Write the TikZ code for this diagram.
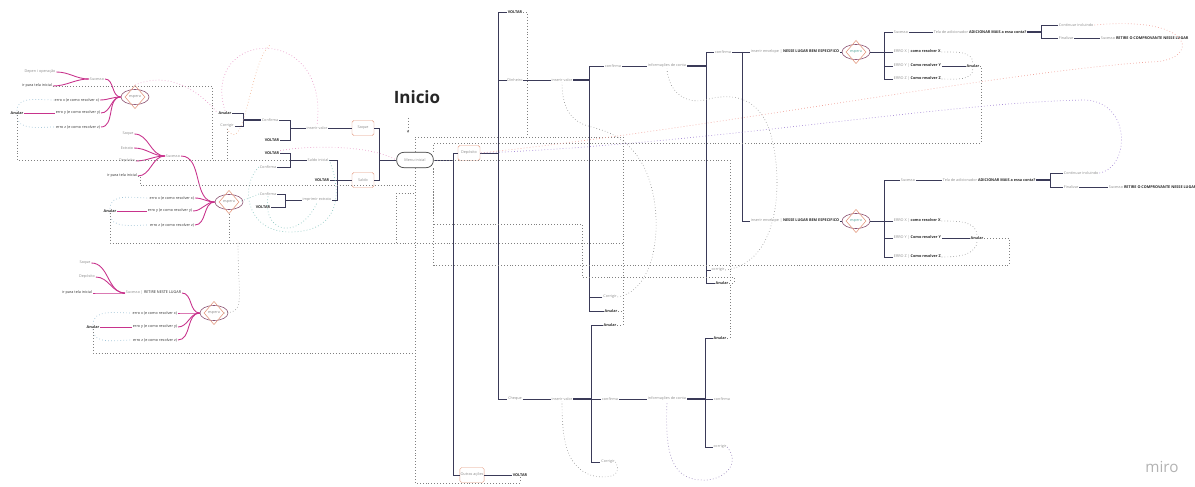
\documentclass[tikz,border=0pt]{standalone}
\usepackage{fontspec}
\setmainfont{Open Sans}
\usetikzlibrary{arrows.meta,positioning,calc,shapes.geometric}

\definecolor{navy}{HTML}{3A3A58}
\definecolor{magc}{HTML}{C8338C}
\definecolor{boxc}{HTML}{E39A80}
\definecolor{ellc}{HTML}{8A4F6F}
\definecolor{salmc}{HTML}{F0A39B}
\definecolor{purpc}{HTML}{A68AD6}
\definecolor{tealc}{HTML}{86C4BE}
\definecolor{lbluec}{HTML}{9FC3D6}
\definecolor{pinkc}{HTML}{E89AC8}
\definecolor{peachc}{HTML}{F2B99A}
\definecolor{esptxt}{HTML}{5AA79E}

\begin{document}
\begin{tikzpicture}[x=0.03cm, y=-0.03cm,
    >=Latex,
    txt/.style={font=\fontsize{3.2}{4}\selectfont, text=black!45, inner sep=0.6pt},
    txtd/.style={txt, text=black!80},
    txtb/.style={txt, text=black!85, font=\fontsize{3.2}{4}\selectfont\bfseries},
    branch/.style={draw=navy, line width=0.6pt},
    trunk/.style={draw=navy, line width=1.4pt},
    mag/.style={draw=magc, line width=0.75pt},
    retline/.style={draw=black!50, dotted, line width=0.5pt},
    tint/.style={dotted, line width=0.6pt, draw=#1},
    optbox/.style={txt, draw=boxc, rounded corners=1.5pt, minimum width=0.66cm, minimum height=0.45cm, fill=white},
    esp/.style={txt, ellipse, draw=ellc, line width=0.5pt, minimum width=0.84cm, minimum height=0.45cm, inner sep=0pt},
    dia/.style={diamond, draw=boxc, line width=0.5pt, minimum width=0.6cm, minimum height=0.7cm, inner sep=0pt}
  ]
  \useasboundingbox (0,0) rectangle (1195,487);

  % title
  \node[font=\fontsize{14.5}{16}\selectfont\bfseries, text=black!85] (title) at (417,97) {Inicio};
  \coordinate (arrA) at (408,118);
  \coordinate (arrB) at (408,133);
  \draw[retline, -{Latex[length=2pt,width=2pt]}] (arrA) -- (arrB);
  \node[font=\fontsize{13}{14}\selectfont, text=black!30] (logo) at (1162,467) {miro};

  % left group, first espera
  \node[txt] (aDep) at (40,72) {Depen i operação};
  \node[txt] (aSuc) at (97,79) {Sucesso};
  \node[txtd] (aIr) at (37,86) {ir para tela inicial};
  \node[esp] (aEsp) at (135,97) {espera};
  \node[dia] (aDia) at (aEsp) {};
  \node[txtd, anchor=east] (aEx) at (100,100) {erro x (e como resolver x)};
  \node[txtb] (aAn) at (17,113) {Anular};
  \node[txtd, anchor=east] (aEy) at (101,113) {erro y (e como resolver y)};
  \node[txtd, anchor=east] (aEz) at (101,127) {erro z (e como resolver z)};

  % left group, second espera
  \node[txt] (bSaq) at (128,134) {Saque};
  \node[txt] (bExt) at (127,148) {Extrato};
  \node[txt] (bDep) at (127,161) {Depósito};
  \node[txtd] (bIr) at (122,176) {ir para tela inicial};
  \node[txt] (bSuc) at (173,156) {Sucesso};
  \node[esp] (bEsp) at (229,202) {espera};
  \node[dia] (bDia) at (bEsp) {};
  \node[txtd, anchor=east] (bEx) at (195,198) {erro x (e como resolver x)};
  \node[txtb] (bAn) at (110,211) {Anular};
  \node[txtd, anchor=east] (bEy) at (193,211) {erro y (e como resolver y)};
  \node[txtd, anchor=east] (bEz) at (195,225) {erro z (e como resolver z)};

  % left group, third espera
  \node[txt] (cSaq) at (85,263) {Saque};
  \node[txt] (cDep) at (87,277) {Depósito};
  \node[txtd] (cIr) at (77,293) {ir para tela inicial};
  \node[txt, anchor=west] (cSuc) at (125,293) {Sucesso | {\color{black!85}RETIRE NESTE LUGAR}};
  \node[esp] (cEsp) at (214,313) {espera};
  \node[dia] (cDia) at (cEsp) {};
  \node[txtd, anchor=east] (cEx) at (178,313) {erro x (e como resolver x)};
  \node[txtb] (cAn) at (93,327) {Anular};
  \node[txtd, anchor=east] (cEy) at (178,327) {erro y (e como resolver y)};
  \node[txtd, anchor=east] (cEz) at (178,340) {erro z (e como resolver z)};

  % saque and saldo
  \node[txt, draw=black!75, line width=0.6pt, rounded corners=6pt, minimum width=1.1cm, minimum height=0.46cm, fill=white] (menu) at (415,160) {Menu inicial};
  \node[txtb] (anA) at (225,113) {Anular};
  \node[txt] (corA) at (227,126) {Corrigir};
  \node[txt] (confA) at (270,120) {Confirma};
  \node[txtb] (voltA) at (272,140) {VOLTAR};
  \node[txt] (insA) at (317,128) {inserir valor};
  \node[optbox] (saqBox) at (363,128) {Saque};
  \node[txtb] (voltB) at (272,153) {VOLTAR};
  \node[txt] (confB) at (268,167) {Confirma};
  \node[txt] (salIni) at (318,160) {Saldo inicial};
  \node[txtb] (voltC) at (322,180) {VOLTAR};
  \node[optbox] (salBox) at (363,180) {Saldo};
  \node[txt] (confC) at (268,194) {Confirma};
  \node[txtb] (voltD) at (263,207) {VOLTAR};
  \node[txt] (impr) at (317,200) {imprimir extrato};

  % deposito
  \node[optbox] (depBox) at (469,153) {Depósito};
  \node[optbox] (outBox) at (472,475) {Outras ações};
  \node[txtb] (voltE) at (515,12) {VOLTAR};
  \node[txt] (din) at (515,80) {Dinheiro};
  \node[txt] (cheq) at (515,399) {Cheque};
  \node[txtb] (voltF) at (520,475) {VOLTAR};
  \node[txt] (insB) at (562,80) {inserir valor};
  \node[txt] (confD) at (613,66) {confirma};
  \node[txt] (corD) at (610,297) {Corrigir};
  \node[txtb] (anD) at (611,311) {Anular};
  \node[txt] (infA) at (667,66) {informações de conta};
  \node[txt] (confE) at (723,52) {confirma};
  \node[txt] (corE) at (718,270) {corrigir};
  \node[txtb] (anE) at (722,283) {Anular};
  \node[txt, anchor=west] (envA) at (750,52) {inserir envelope | {\color{black!85}\bfseries NESSE LUGAR BEM ESPECIFICO}};
  \node[txt, anchor=west] (envB) at (750,221) {inserir envelope | {\color{black!85}\bfseries NESSE LUGAR BEM ESPECIFICO}};

  \node[esp, text=esptxt] (espB) at (856,52) {espera};
  \node[dia] (diaB) at (espB) {};
  \node[txt, anchor=west] (sucB) at (893,32) {Sucesso};
  \node[txt, anchor=west] (exB) at (893,52) {ERRO X | {\color{black!85}\bfseries como resolver X}};
  \node[txt, anchor=west] (eyB) at (893,66) {ERRO Y | {\color{black!85}\bfseries Como resolver Y}};
  \node[txt, anchor=west] (ezB) at (893,79) {ERRO Z | {\color{black!85}\bfseries Como resolver Z}};
  \node[txtb] (anF) at (973,66) {Anular};
  \node[txt, anchor=west] (telaB) at (933,32) {Tela de adicionador {\color{black!85}\bfseries ADICIONAR MAIS a essa conta?}};
  \node[txt, anchor=west] (contB) at (1058,25) {Continuar incluindo};
  \node[txt, anchor=west] (finB) at (1058,38) {Finalizar};
  \node[txt, anchor=west] (retB) at (1100,38) {Sucesso {\color{black!85}\bfseries RETIRE O COMPROVANTE NESSE LUGAR}};

  \node[esp, text=esptxt] (espC) at (856,221) {espera};
  \node[dia] (diaC) at (espC) {};
  \node[txt, anchor=west] (sucC) at (900,180) {Sucesso};
  \node[txt, anchor=west] (exC) at (893,221) {ERRO X | {\color{black!85}\bfseries como resolver X}};
  \node[txt, anchor=west] (eyC) at (893,238) {ERRO Y | {\color{black!85}\bfseries Como resolver Y}};
  \node[txt, anchor=west] (ezC) at (893,257) {ERRO Z | {\color{black!85}\bfseries Como resolver Z}};
  \node[txtb] (anG) at (977,238) {Anular};
  \node[txt, anchor=west] (telaC) at (942,180) {Tela de adicionador {\color{black!85}\bfseries ADICIONAR MAIS a essa conta?}};
  \node[txt, anchor=west] (contC) at (1063,173) {Continuar incluindo};
  \node[txt, anchor=west] (finC) at (1063,187) {Finalizar};
  \node[txt, anchor=west] (retC) at (1108,187) {Sucesso {\color{black!85}\bfseries RETIRE O COMPROVANTE NESSE LUGAR}};

  % cheque
  \node[txt] (insC) at (562,399) {inserir valor};
  \node[txtb] (anH) at (610,325) {Anular};
  \node[txt] (confH) at (610,399) {confirma};
  \node[txt] (corH) at (608,462) {Corrigir};
  \node[txt] (infB) at (667,399) {informações de conta};
  \node[txtb] (anI) at (720,338) {Anular};
  \node[txt] (confI) at (722,399) {confirma};
  \node[txt] (corI) at (720,447) {corrigir};

  % magenta trees
  \foreach \k in {aEx,aEy,aEz,aSuc} \draw[mag] (aEsp.west) to[out=180,in=0] (\k.east);
  \foreach \k in {aDep,aIr} \draw[mag] (aSuc.west) to[out=180,in=0] (\k.east);
  \draw[mag] (aAn.east) -- (aEy.west);
  \foreach \k in {bEx,bEy,bEz,bSuc} \draw[mag] (bEsp.west) to[out=180,in=0] (\k.east);
  \foreach \k in {bSaq,bExt,bDep,bIr} \draw[mag] (bSuc.west) to[out=180,in=0] (\k.east);
  \draw[mag] (bAn.east) -- (bEy.west);
  \foreach \k in {cEx,cEy,cEz,cSuc} \draw[mag] (cEsp.west) to[out=180,in=0] (\k.east);
  \foreach \k in {cSaq,cDep,cIr} \draw[mag] (cSuc.west) to[out=180,in=0] (\k.east);
  \draw[mag] (cAn.east) -- (cEy.west);
  \foreach \a/\x/\z in {aAn/aEx/aEz, bAn/bEx/bEz, cAn/cEx/cEz} {
    \draw[tint=lbluec] (\a.north) to[out=90,in=180] (\x.west);
    \draw[tint=lbluec] (\a.south) to[out=-90,in=180] (\z.west);
  }

  % menu, left side
  \draw[branch] (menu.west) -- ++(-17,0) coordinate (bM);
  \draw[branch] (saqBox.east) -| (bM) |- (salBox.east);
  \draw[branch] (saqBox.west) -- (insA.east);
  \draw[branch] (insA.west) -- ++(-15,0) coordinate (bA);
  \draw[branch] (confA.east) -| (bA) |- (voltA.east);
  \draw[trunk] (confA.west) -- ++(-18,0) coordinate (bB);
  \draw[branch] (anA.east) -| (bB) |- (corA.east);
  \draw[branch] (salBox.west) -- ++(-14,0) coordinate (bC);
  \draw[branch] (salIni.east) -| (bC) |- (impr.east);
  \draw[branch] (voltC.east) -- (salBox.west);
  \draw[branch] (salIni.west) -- ++(-16,0) coordinate (bD);
  \draw[branch] (voltB.east) -| (bD) |- (confB.east);
  \draw[branch] (impr.west) -- ++(-16,0) coordinate (bE);
  \draw[branch] (confC.east) -| (bE) |- (voltD.east);

  % menu, right side
  \draw[branch] (menu.east) -- ++(20,0) coordinate (bF);
  \draw[branch] (depBox.west) -| (bF) |- (outBox.west);
  \draw[branch] (outBox.east) -- (voltF.west);
  \draw[branch] (depBox.east) -- ++(18,0) coordinate (bG);
  \draw[branch] (voltE.west) -| (bG) |- (cheq.west);
  \draw[branch] (din.west) -- (din.west -| bG);
  \draw[branch] (din.east) -- (insB.west);
  \draw[trunk] (insB.east) -- ++(16,0) coordinate (bH);
  \draw[branch] (confD.west) -| (bH) |- (anD.west);
  \draw[branch] (corD.west) -- (corD.west -| bH);
  \draw[branch] (confD.east) -- (infA.west);
  \draw[trunk] (infA.east) -- ++(19,0) coordinate (bI);
  \draw[branch] (confE.west) -| (bI) |- (anE.west);
  \draw[branch] (corE.west) -- (corE.west -| bI);
  \draw[branch] (confE.east) -- ++(11,0) coordinate (bJ);
  \draw[branch] (bJ) -- (envA.west);
  \draw[branch] (bJ) |- (envB.west);

  \draw[branch] (envA.east) -- (espB.west);
  \draw[branch] (espB.east) -- ++(14,0) coordinate (bK);
  \draw[branch] (sucB.west) -| (bK) |- (ezB.west);
  \draw[branch] (exB.west) -- (exB.west -| bK);
  \draw[branch] (eyB.west) -- (eyB.west -| bK);
  \draw[branch] (sucB.east) -- (telaB.west);
  \draw[trunk] (telaB.east) -- ++(14,0) coordinate (bL);
  \draw[branch] (contB.west) -| (bL) |- (finB.west);
  \draw[branch] (finB.east) -- (retB.west);
  \draw[branch] (eyB.east) -- (anF.west);

  \draw[branch] (envB.east) -- (espC.west);
  \draw[branch] (espC.east) -- ++(14,0) coordinate (bP);
  \draw[branch] (sucC.west) -| (bP) |- (ezC.west);
  \draw[branch] (exC.west) -- (exC.west -| bP);
  \draw[branch] (eyC.west) -- (eyC.west -| bP);
  \draw[branch] (sucC.east) -- (telaC.west);
  \draw[trunk] (telaC.east) -- ++(14,0) coordinate (bQ);
  \draw[branch] (contC.west) -| (bQ) |- (finC.west);
  \draw[branch] (finC.east) -- (retC.west);
  \draw[branch] (eyC.east) -- (anG.west);

  \draw[branch] (cheq.east) -- (insC.west);
  \draw[trunk] (insC.east) -- ++(18,0) coordinate (bN);
  \draw[branch] (anH.west) -| (bN) |- (corH.west);
  \draw[branch] (confH.west) -- (confH.west -| bN);
  \draw[branch] (confH.east) -- (infB.west);
  \draw[trunk] (infB.east) -- ++(18,0) coordinate (bO);
  \draw[branch] (anI.west) -| (bO) |- (corI.west);
  \draw[branch] (confI.west) -- (confI.west -| bO);

  % dotted return lines
  \draw[retline] (aAn.south) |- (bD);
  \draw[retline] (aIr.east) -| (212,160);
  \draw[retline] (corA.south) -- (corA.south |- bD);
  \draw[retline] (bAn.south) |- (623,243);
  \draw[retline] (396,243) -- (396,193) -- (415,193);
  \draw[retline] (bIr.east) -| (140,185) -- (415,185);
  \draw[retline] (cAn.south) |- (415,353);
  \coordinate (jB) at (238,243);
  \draw[retline] (cDia.east) .. controls (246,312) and (238,300) .. (jB);
  \draw[retline] (bDia.south) -- (bDia.south |- jB);
  \coordinate (jT) at (527,137);
  \draw[retline] (voltE.east) -| (jT) -| (menu.north);
  \draw[retline] (anH.east) -| (623,137) -- (jT);
  \draw[retline] (anD.east) -- (623,311);
  \draw[retline] (anF.east) -| (981,143) -| (menu.north east);
  \draw[retline] (anG.east) -| (1009,265) -| (menu.south east);
  \draw[retline] (anE.east) -| (730,160) -- (menu.east);
  \draw[retline] (anI.east) -| (730,283);
  \draw[retline] (anE.east) -| (734,277) -| (582,224) -| (menu.south east);
  \draw[retline] (voltF.south) |- (415,483) -- (menu.south);
  \draw[retline] (exB.east) to[out=0,in=90] (anF.north);
  \draw[retline] (ezB.east) to[out=0,in=-90] (anF.south);
  \draw[retline] (exC.east) to[out=0,in=90] (anG.north);
  \draw[retline] (ezC.east) to[out=0,in=-90] (anG.south);

  % loops back
  \draw[retline] (corE.east) .. controls (790,262) and (782,150) .. (765,120) .. controls (750,92) and (722,95) .. (705,100) .. controls (682,105) and (668,88) .. (infA.south);
  \draw[retline] (corD.east) .. controls (662,290) and (666,200) .. (640,160) .. controls (622,132) and (600,130) .. (585,125) .. controls (566,118) and (562,100) .. (insB.south);
  \draw[retline] (corH.east) .. controls (625,480) and (600,478) .. (590,475) .. controls (566,465) and (562,440) .. (insC.south);
  \draw[tint=purpc!70!gray] (corI.east) .. controls (742,465) and (722,482) .. (700,480) .. controls (670,478) and (665,450) .. (infB.south);
  \draw[tint=salmc] (contB.east) .. controls (1200,15) and (1200,62) .. (1150,62) .. controls (1000,72) and (700,130) .. (depBox.east);
  \draw[tint=purpc] (contC.east) .. controls (1130,168) and (1132,102) .. (1085,100) .. controls (950,102) and (700,145) .. (depBox.east);

  % left loops
  \draw[tint=pinkc] (aDia.north) .. controls (170,70) and (200,92) .. (anA.west);
  \draw[tint=pinkc] (anA.north) .. controls (200,30) and (330,20) .. (insA.north);
  \draw[tint=peachc] (corA.south) .. controls (245,160) and (250,60) .. (270,45);
  \draw[tint=pinkc] (voltB.north east) .. controls (310,145) and (370,145) .. (menu.west);
  \draw[tint=tealc] (confB.west) .. controls (240,185) and (245,232) .. (290,232) .. controls (335,232) and (345,200) .. (salIni.east);
  \draw[tint=tealc] (confC.west) -- (bDia.east);
  \draw[tint=tealc] (confC.south) .. controls (262,235) and (300,240) .. (impr.south);
\end{tikzpicture}
\end{document}
